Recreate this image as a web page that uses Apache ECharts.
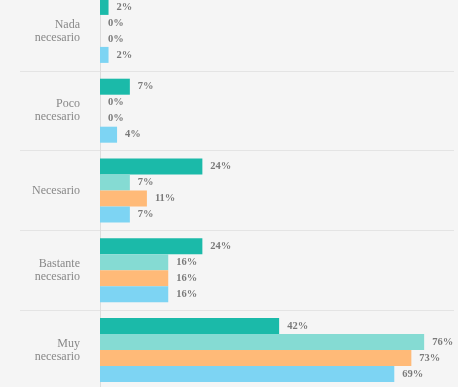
<!DOCTYPE html>
<html>
<head>
<meta charset="utf-8">
<script src="https://cdn.jsdelivr.net/npm/echarts@6/dist/echarts.min.js"></script>
<style>
  html, body { margin: 0; padding: 0; background: #f5f5f5; overflow: hidden; }
  #wrap { width: 458px; height: 387px; overflow: hidden; position: relative; }
  /* el grafico es mas alto y sube un poco: la primera banda queda cortada arriba */
  #chart { width: 458px; height: 399px; position: absolute; top: -9px; left: 0; }
</style>
</head>
<body>
<div id="wrap"><div id="chart"></div></div>
<script>
// categorias (de arriba a abajo)
const categories = ['Nada\nnecesario', 'Poco\nnecesario', 'Necesario', 'Bastante\nnecesario', 'Muy\nnecesario']

// valores de cada serie, en %
const serieA = [2, 7, 24, 24, 42]
const serieB = [0, 0, 7, 16, 76]
const serieC = [0, 0, 11, 16, 73]
const serieD = [2, 4, 7, 16, 69]

const colors = ['#1bbaa9', '#85dbd3', '#ffba78', '#7dd4f3']
const serif = "'Liberation Serif', 'DejaVu Serif', serif"

const chart = echarts.init(document.getElementById('chart'))

function makeSerie(data, i) {
    return {
        type: 'bar',
        data: data,
        barWidth: 16,
        barGap: '0%',
        itemStyle: { color: colors[i] },
        label: {
            show: true,
            position: 'right',
            distance: 8,
            formatter: '{c}%',
            fontFamily: serif,
            fontSize: 10.5,
            fontWeight: 'bold',
            color: '#7a7a7a'
        }
    }
}

chart.setOption({
    backgroundColor: '#f5f5f5',
    animation: false,
    grid: { left: 100, right: 4, top: 0, bottom: 0 },
    xAxis: {
        type: 'value',
        min: 0,
        max: 83,
        show: false
    },
    yAxis: {
        type: 'category',
        inverse: true,
        data: categories,
        axisLine: { lineStyle: { color: '#dcdcdc' } },
        // ticks largos para que el separador llegue hasta la etiqueta
        axisTick: { show: true, length: 80, lineStyle: { color: '#e4e4e4' } },
        splitLine: { show: true, lineStyle: { color: '#e4e4e4' } },
        axisLabel: {
            margin: 20,
            fontFamily: serif,
            fontSize: 12,
            lineHeight: 13,
            color: '#888',
            align: 'right'
        }
    },
    series: [serieA, serieB, serieC, serieD].map(makeSerie)
})
</script>
</body>
</html>
